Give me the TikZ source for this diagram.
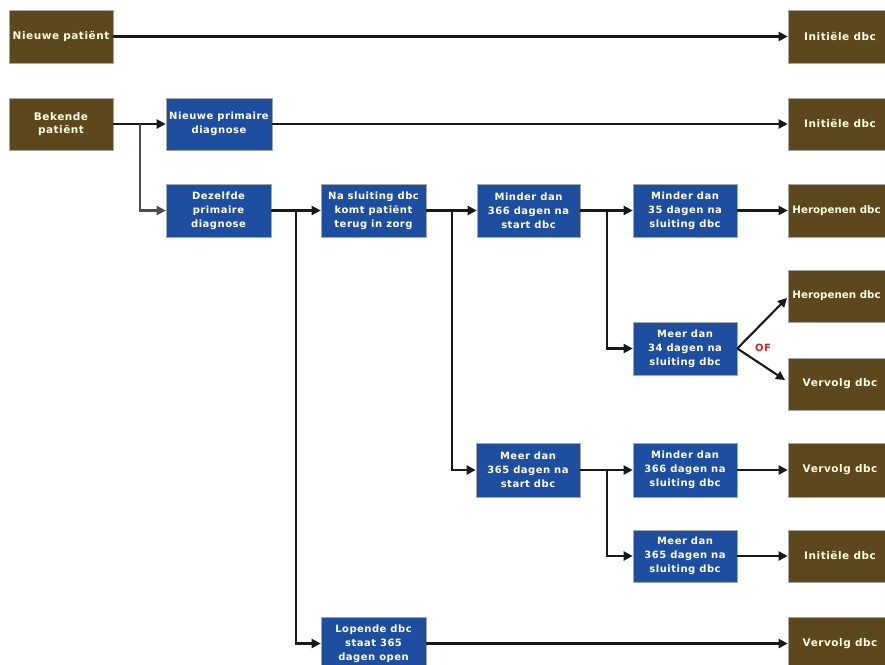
\documentclass[tikz,border=0pt]{standalone}
\usepackage{fontspec}
\setmainfont[LetterSpace=5]{DejaVu Sans}
\usetikzlibrary{arrows.meta,shadows}
\definecolor{brownbox}{RGB}{92,72,28}
\definecolor{bluebox}{RGB}{30,78,160}
\definecolor{ofred}{RGB}{220,30,30}
\tikzset{
  box/.style={draw=black!35, line width=0.6pt, inner sep=0pt, align=center, font=\bfseries,
    drop shadow={opacity=0.25, shadow xshift=1.2pt, shadow yshift=-1.2pt}},
  brownnode/.style={box, fill=brownbox, text=white!88!yellow, minimum width=104pt, minimum height=53pt,
    font=\fontsize{10.5}{13}\selectfont\bfseries},
  edgenode/.style={brownnode, font=\fontsize{10.3}{13}\selectfont\bfseries\addfontfeature{LetterSpace=0}},
  bluenode/.style={box, fill=bluebox, text=white, minimum width=104pt, minimum height=53pt,
    font=\fontsize{10}{14}\selectfont\bfseries},
  conn/.style={line width=2.1pt, draw=black!90, -{Triangle[length=9pt,width=9pt]}},
  plainline/.style={line width=2.1pt, draw=black!90},
  grayconn/.style={conn, draw=black!70},
  grayline/.style={plainline, draw=black!70},
}
\begin{document}
\begin{tikzpicture}[x=1pt,y=-1pt]
\useasboundingbox (0,0) rectangle (885,664);
% left nodes
\node[brownnode] (np) at (61,36.5) {Nieuwe patiënt};
\node[brownnode, minimum height=52pt] (bp) at (61,124) {Bekende\\patiënt};
% blue nodes
\node[bluenode, minimum width=106pt, minimum height=52pt] (npd) at (219,124) {Nieuwe primaire\\diagnose};
\node[bluenode, minimum width=105pt] (dpd) at (218.5,210.5) {Dezelfde\\primaire\\diagnose};
\node[bluenode, minimum width=105pt] (ns) at (373.5,210.5) {Na sluiting dbc\\komt patiënt\\terug in zorg};
\node[bluenode, minimum width=103pt] (m366s) at (528.5,210.5) {Minder dan\\366 dagen na\\start dbc};
\node[bluenode] (m35) at (685,210.5) {Minder dan\\35 dagen na\\sluiting dbc};
\node[bluenode] (m34) at (685,348.5) {Meer dan\\34 dagen na\\sluiting dbc};
\node[bluenode, minimum height=54pt] (m365s) at (528,470) {Meer dan\\365 dagen na\\start dbc};
\node[bluenode, minimum height=54pt] (m366sl) at (685,470) {Minder dan\\366 dagen na\\sluiting dbc};
\node[bluenode, minimum height=52pt] (m365sl) at (685,556) {Meer dan\\365 dagen na\\sluiting dbc};
\node[bluenode, minimum width=105pt] (lop) at (373.5,643.5) {Lopende dbc\\staat 365\\dagen open};
% right nodes
\node[brownnode] (r1) at (840,36.5) {Initiële dbc};
\node[brownnode, minimum height=52pt] (r2) at (840,124) {Initiële dbc};
\node[edgenode] (r3) at (840,210.5) {Heropenen dbc\hspace*{7pt}};
\node[edgenode, minimum height=52pt] (r4) at (840,296) {Heropenen dbc\hspace*{7pt}};
\node[brownnode, minimum height=52pt] (r5) at (840,384) {Vervolg dbc};
\node[brownnode, minimum height=54pt] (r6) at (840,470) {Vervolg dbc};
\node[brownnode, minimum height=52pt] (r7) at (840,556) {Initiële dbc};
\node[brownnode] (r8) at (840,643.5) {Vervolg dbc};
% OF label
\node[text=ofred, font=\fontsize{10}{11}\selectfont\bfseries, inner sep=0pt] (of) at (763,348) {OF};
% branch coordinates
\coordinate (b1) at (140,124);
\coordinate (b2) at (296,210.5);
\coordinate (b3) at (452,210.5);
\coordinate (b4) at (607,210.5);
\coordinate (b5) at (607,470);
\coordinate (t4) at (787,298);
\coordinate (t5) at (785,380);
% connectors
\draw[conn] (np) -- (r1);
\draw[plainline] (bp) -- (b1);
\draw[conn] (b1) -- (npd);
\draw[grayconn] (b1) |- (dpd);
\draw[conn] (npd) -- (r2);
\draw[conn] (dpd) -- (ns);
\draw[conn] (b2) |- (lop);
\draw[conn] (ns) -- (m366s);
\draw[conn] (b3) |- (m365s);
\draw[conn] (m366s) -- (m35);
\draw[conn] (b4) |- (m34);
\draw[conn] (m35) -- (r3);
\draw[conn] (m34.east) -- (t4);
\draw[conn] (m34.east) -- (t5);
\draw[conn] (m365s) -- (m366sl);
\draw[conn] (b5) |- (m365sl);
\draw[conn] (m366sl) -- (r6);
\draw[conn] (m365sl) -- (r7);
\draw[conn] (lop) -- (r8);
\end{tikzpicture}
\end{document}
